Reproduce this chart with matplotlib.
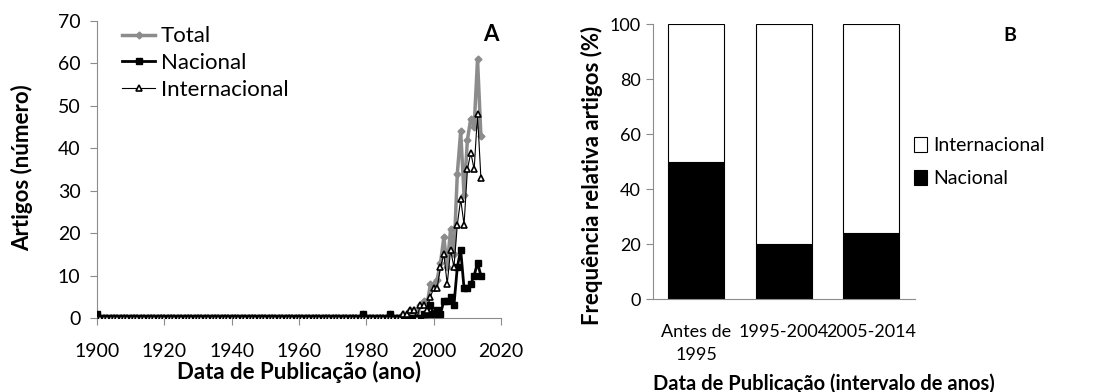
import matplotlib
matplotlib.use("Agg")
import matplotlib.pyplot as plt
from matplotlib.patches import Patch

plt.rcParams['font.family'] = ['Lato', 'DejaVu Sans']

# Panel A: articles per year (years without points on the plot are 0)
years = list(range(1900, 2015))
total_nonzero = {1900: 1, 1979: 1, 1987: 1, 1991: 1, 1992: 1, 1993: 2, 1994: 2,
                 1996: 3, 1997: 4, 1998: 3, 1999: 8, 2000: 8, 2001: 9, 2002: 13,
                 2003: 19, 2004: 12, 2005: 21, 2006: 15, 2007: 34, 2008: 44,
                 2009: 29, 2010: 42, 2011: 47, 2012: 45, 2013: 61, 2014: 43}
nacional_nonzero = {1900: 1, 1979: 1, 1987: 1, 1997: 1, 1998: 1, 1999: 3,
                    2000: 1, 2001: 2, 2002: 1, 2003: 4, 2004: 4, 2005: 5, 2006: 3,
                    2007: 12, 2008: 16, 2009: 7, 2010: 7, 2011: 8, 2012: 10,
                    2013: 13, 2014: 10}
internacional_nonzero = {1991: 1, 1992: 1, 1993: 2, 1994: 2, 1996: 3, 1997: 3,
                         1998: 2, 1999: 5, 2000: 7, 2001: 7, 2002: 12, 2003: 15,
                         2004: 8, 2005: 16, 2006: 12, 2007: 22, 2008: 28, 2009: 22,
                         2010: 35, 2011: 39, 2012: 35, 2013: 48, 2014: 33}

total = [total_nonzero.get(y, 0) for y in years]
nacional = [nacional_nonzero.get(y, 0) for y in years]
internacional = [internacional_nonzero.get(y, 0) for y in years]

# Panel B: relative frequency (%)
periods = ['Antes de\n1995', '1995-2004', '2005-2014']
nacional_pct = [50, 20, 24]
internacional_pct = [50, 80, 76]

spine_gray = '#8c8c8c'

fig = plt.figure(figsize=(11.18, 3.92), dpi=100)

# ---- A ----
ax1 = fig.add_axes([0.0868, 0.1888, 0.3614, 0.7577])
ax1.plot(years, total, color='#8c8c8c', lw=2.5, marker='D', ms=3.5,
         mfc='#8c8c8c', mec='#8c8c8c', label='Total', zorder=2)
ax1.plot(years, nacional, color='black', lw=2, marker='s', ms=4.5,
         label='Nacional', zorder=3)
ax1.plot(years, internacional, color='black', lw=0.8, marker='^', ms=5,
         mfc='white', mec='black', mew=1.2, label='Internacional', zorder=4)
ax1.set_xlim(1900, 2020)
ax1.set_ylim(0, 70)
ax1.set_xticks(range(1900, 2021, 20))
ax1.set_yticks(range(0, 71, 10))
ax1.set_xlabel('Data de Publicação (ano)', fontsize=16, fontweight='bold', labelpad=1)
ax1.set_ylabel('Artigos (número)', fontsize=16, fontweight='bold')
ax1.yaxis.set_label_coords(-0.158, 0.505)
ax1.text(0.995, 0.956, 'A', transform=ax1.transAxes, fontsize=16,
         fontweight='bold', ha='right', va='center')
ax1.legend(loc='upper left', bbox_to_anchor=(0.04, 1.012), frameon=False,
           fontsize=16, handlelength=1.5, handletextpad=0.25, labelspacing=0.3,
           borderaxespad=0)

# ---- B ----
ax2 = fig.add_axes([0.5838, 0.2372, 0.2346, 0.7008])
xpos = range(len(periods))
ax2.bar(xpos, nacional_pct, width=0.64, color='black', edgecolor='black',
        lw=0.8, label='Nacional')
ax2.bar(xpos, internacional_pct, bottom=nacional_pct, width=0.64, color='white',
        edgecolor='black', lw=0.8, label='Internacional')
ax2.set_xlim(-0.5, 2.5)
ax2.set_ylim(0, 100)
ax2.set_yticks(range(0, 101, 20))
ax2.set_xticks(list(xpos))
ax2.set_xticklabels(periods)
ax2.set_ylabel('Frequência relativa artigos (%)', fontsize=16, fontweight='bold')
ax2.yaxis.set_label_coords(-0.19, 0.45)
fig.text(0.737, 0.022, 'Data de Publicação (intervalo de anos)', fontsize=14.5,
         fontweight='bold', ha='center', va='center')
fig.text(0.903, 0.91, 'B', fontsize=14, fontweight='bold', ha='center', va='center')
handles = [Patch(facecolor='white', edgecolor='black', lw=0.8),
           Patch(facecolor='black', edgecolor='black', lw=0.8)]
ax2.legend(handles, ['Internacional', 'Nacional'], loc='center left',
           bbox_to_anchor=(0.966, 0.498), frameon=False, fontsize=14,
           handlelength=0.7, handleheight=0.8, handletextpad=0.3,
           labelspacing=0.8, borderaxespad=0)

for ax in (ax1, ax2):
    for side in ('top', 'right'):
        ax.spines[side].set_visible(False)
    for side in ('left', 'bottom'):
        ax.spines[side].set_color(spine_gray)
    ax.tick_params(axis='both', colors=spine_gray, labelcolor='black',
                   length=5, direction='out')
ax1.tick_params(axis='both', labelsize=14)
ax1.tick_params(axis='x', pad=13)
ax1.tick_params(axis='y', pad=7)
ax2.tick_params(axis='both', labelsize=13)
ax2.tick_params(axis='x', length=0, pad=18)
for lbl in ax2.get_xticklabels():
    lbl.set_linespacing(1.55)

fig.savefig('out.png', dpi=100)
